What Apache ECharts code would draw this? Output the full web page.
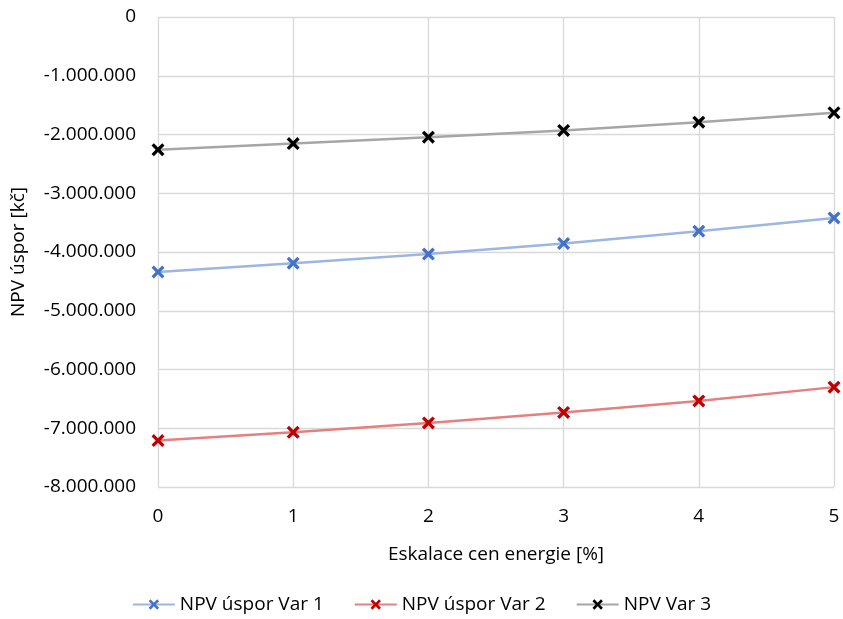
<!DOCTYPE html>
<html>
<head>
    <meta charset="utf-8">
    <title>NPV úspor</title>
    <script src="https://cdn.jsdelivr.net/npm/echarts@6/dist/echarts.min.js"></script>
    <style>
        body { margin: 0; background: #fff; }
    </style>
</head>
<body>
<div id="main" style="width: 843px;height:619px;"></div>
<script type="text/javascript">
    // eskalace cen energie [%]
    var eskalace = [0, 1, 2, 3, 4, 5];
    // NPV hodnoty [kč]
    var var1 = [-4340000, -4190000, -4035000, -3855000, -3645000, -3420000];
    var var2 = [-7210000, -7070000, -6910000, -6730000, -6535000, -6300000];
    var var3 = [-2260000, -2155000, -2045000, -1930000, -1790000, -1630000];
    var nazvy = ['NPV úspor Var 1', 'NPV úspor Var 2', 'NPV Var 3'];

    var font = '"Open Sans", sans-serif';
    var krizek = 'path://M0,1.8L1.8,0L5,3.2L8.2,0L10,1.8L6.8,5L10,8.2L8.2,10L5,6.8L1.8,10L0,8.2L3.2,5Z';

    function formatCislo(v) {
        var s = Math.abs(v).toString().replace(/\B(?=(\d{3})+(?!\d))/g, '.');
        return (v < 0 ? '-' : '') + s;
    }

    function body(data) {
        return eskalace.map(function (x, i) { return [x, data[i]]; });
    }

    function serie(name, data, lineColor, markColor) {
        return {
            name: name,
            type: 'line',
            data: body(data),
            symbol: krizek,
            symbolSize: 13,
            showAllSymbol: true,
            lineStyle: { color: lineColor, width: 2.5 },
            itemStyle: { color: markColor },
            z: 3
        };
    }

    var myChart = echarts.init(document.getElementById('main'));
    var option = {
        animation: false,
        textStyle: { fontFamily: font },
        grid: { left: 158, right: 9, top: 17, bottom: 132 },
        xAxis: {
            type: 'value',
            min: 0, max: 5, interval: 1,
            name: 'Eskalace cen energie [%]',
            nameLocation: 'middle',
            nameGap: 58,
            nameTextStyle: { fontSize: 19, color: '#000', fontFamily: font },
            axisLine: { show: false },
            axisTick: { show: false },
            axisLabel: { fontSize: 19, color: '#000', margin: 20, fontFamily: font },
            splitLine: { lineStyle: { color: '#d9d9d9', width: 1.3 } }
        },
        yAxis: {
            type: 'value',
            min: -8000000, max: 0, interval: 1000000,
            name: 'NPV úspor [kč]',
            nameLocation: 'middle',
            nameGap: 130,
            nameTextStyle: { fontSize: 19, color: '#000', fontFamily: font },
            axisLine: { show: false },
            axisTick: { show: false },
            axisLabel: { fontSize: 19, color: '#000', margin: 22, fontFamily: font, formatter: formatCislo },
            splitLine: { lineStyle: { color: '#d9d9d9', width: 1.3 } }
        },
        legend: {
            data: nazvy,
            bottom: 0,
            left: 'center',
            itemWidth: 42,
            itemHeight: 13,
            itemGap: 30,
            textStyle: { fontSize: 19, color: '#000', fontFamily: font }
        },
        series: [
            serie(nazvy[0], var1, '#9bb6e3', '#4472c4'),
            serie(nazvy[1], var2, '#e58080', '#c00000'),
            serie(nazvy[2], var3, '#a6a6a6', '#000000')
        ]
    };
    myChart.setOption(option);
</script>
</body>
</html>
